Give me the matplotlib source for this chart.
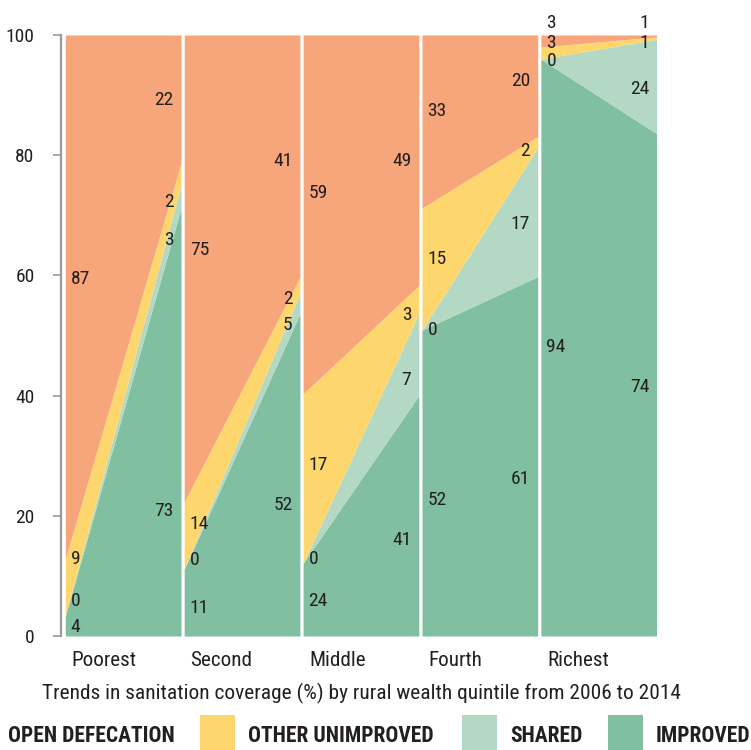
import matplotlib
matplotlib.use("Agg")
import matplotlib.pyplot as plt
from matplotlib.patches import Rectangle

# ---------------- data ----------------
categories = ["Poorest", "Second", "Middle", "Fourth", "Richest"]
layers = ["OPEN DEFECATION", "OTHER UNIMPROVED", "SHARED", "IMPROVED"]

# drawn band heights (% of population)
improved_2006 = [3.3, 11.1, 12.1, 50.9, 96.0]
shared_2006 = [0.0, 0.0, 0.0, 0.0, 0.0]
other_2006 = [9.5, 11.2, 28.2, 20.3, 2.0]
od_2006 = [87.2, 77.7, 59.7, 28.8, 2.0]

improved_2014 = [71.2, 53.6, 40.0, 59.8, 83.6]
shared_2014 = [3.8, 3.4, 13.6, 21.5, 15.7]
other_2014 = [3.7, 2.7, 4.7, 1.8, 0.4]
od_2014 = [21.3, 40.3, 41.7, 16.9, 0.3]

# printed values
lab_od_2006 = [87, 75, 59, 33, 3]
lab_other_2006 = [9, 14, 17, 15, 3]
lab_shared_2006 = [0, 0, 0, 0, 0]
lab_improved_2006 = [4, 11, 24, 52, 94]
lab_od_2014 = [22, 41, 49, 20, 1]
lab_other_2014 = [2, 2, 3, 2, 1]
lab_shared_2014 = [3, 5, 7, 17, 24]
lab_improved_2014 = [73, 52, 41, 61, 74]

yticks = [0, 20, 40, 60, 80, 100]
title = "Trends in sanitation coverage (%) by rural wealth quintile from 2006 to 2014"

# ---------------- style ----------------
C_OD = "#F6A67A"
C_OTHER = "#FDD76E"
C_SHARED = "#B3D9C5"
C_IMP = "#80BFA0"
TXT = "#231F20"
FONT = ["Liberation Sans Narrow", "Roboto Condensed", "Liberation Sans", "DejaVu Sans"]
plt.rcParams["font.family"] = FONT

W, H = 751, 750
fig = plt.figure(figsize=(W / 100, H / 100), dpi=100)

ax_left, ax_right, ax_top, ax_bot = 61, 657, 35, 636
ax = fig.add_axes([ax_left / W, 1 - ax_bot / H, (ax_right - ax_left) / W, (ax_bot - ax_top) / H])
step_px = 118.9
pw = 115.7 / step_px
x0 = -4.3 / step_px
ax.set_xlim(x0, x0 + (ax_right - ax_left) / step_px)
ax.set_ylim(0, 100)

layer_cols = [C_IMP, C_SHARED, C_OTHER, C_OD]
left_vals = [improved_2006, shared_2006, other_2006, od_2006]
right_vals = [improved_2014, shared_2014, other_2014, od_2014]

for i in range(len(categories)):
    xs = [i, i + pw]
    lo_l, lo_r = 0.0, 0.0
    for k in range(4):
        hi_l = lo_l + left_vals[k][i]
        hi_r = lo_r + right_vals[k][i]
        if k == 3:
            hi_l, hi_r = 100.0, 100.0
        ax.fill_between(xs, [lo_l, lo_r], [hi_l, hi_r], color=layer_cols[k], lw=0)
        lo_l, lo_r = hi_l, hi_r

# label centre positions (value units)
pos_left = {
    "od": [59.8, 64.6, 74.0, 87.7, 102.3],
    "other": [13.1, 18.9, 28.8, 63.0, 99.0],
    "shared": [6.1, 12.9, 13.1, 51.2, 96.0],
    "imp": [1.9, 5.0, 6.1, 23.0, 48.4],
}
pos_right = {
    "od": [89.6, 79.3, 79.3, 92.7, 102.3],
    "other": [72.6, 56.4, 53.7, 81.0, 99.0],
    "shared": [66.3, 52.1, 42.9, 68.9, 91.3],
    "imp": [21.1, 22.1, 16.3, 26.5, 41.8],
}
labs_left = {"od": lab_od_2006, "other": lab_other_2006, "shared": lab_shared_2006, "imp": lab_improved_2006}
labs_right = {"od": lab_od_2014, "other": lab_other_2014, "shared": lab_shared_2014, "imp": lab_improved_2014}

NUM_FS = 14
half_cap = 7.0 / 6.01  # half cap height in value units
inset_l = 5.5 / step_px
inset_r = 7.5 / step_px
for key in ["od", "other", "shared", "imp"]:
    for i in range(len(categories)):
        ax.text(i + inset_l, pos_left[key][i] - half_cap, str(labs_left[key][i]),
                ha="left", va="baseline", fontsize=NUM_FS, color=TXT, clip_on=False)
        ax.text(i + pw - inset_r, pos_right[key][i] - half_cap, str(labs_right[key][i]),
                ha="right", va="baseline", fontsize=NUM_FS, color=TXT, clip_on=False)

# axes cosmetics
for s in ["top", "right", "bottom"]:
    ax.spines[s].set_visible(False)
ax.spines["left"].set_color("#9A9A9A")
ax.spines["left"].set_linewidth(1.6)
ax.spines["left"].set_bounds(0, 100)
ax.set_yticks(yticks)
ax.set_yticklabels([str(v) for v in yticks])
ax.tick_params(axis="y", length=6, width=1.2, color="#9A9A9A", labelsize=NUM_FS,
               labelcolor=TXT, pad=13)
ax.set_xticks([])

# category labels
for i, c in enumerate(categories):
    fig.text((ax_left + 4.3 + i * step_px + 6) / W, 1 - 665.7 / H, c, ha="left", va="baseline",
             fontsize=15.2, color=TXT)

# title
fig.text(361.5 / W, 1 - 699.3 / H, title, ha="center", va="baseline", fontsize=15.4, color=TXT)

# legend
leg_base = 1 - 741.7 / H
fig.text(8 / W, leg_base, layers[0], ha="left", va="baseline", fontsize=15.5,
         fontweight="bold", color=TXT)
for sx, col, tx, name in [(200, C_OTHER, 248, layers[1]), (462, C_SHARED, 510, layers[2]),
                          (608, C_IMP, 656, layers[3])]:
    fig.patches.append(Rectangle((sx / W, 0), 35 / W, 35 / H, transform=fig.transFigure,
                                 color=col, lw=0))
    fig.text(tx / W, leg_base, name, ha="left", va="baseline", fontsize=15.5,
             fontweight="bold", color=TXT)

fig.savefig("out.png", dpi=100)
